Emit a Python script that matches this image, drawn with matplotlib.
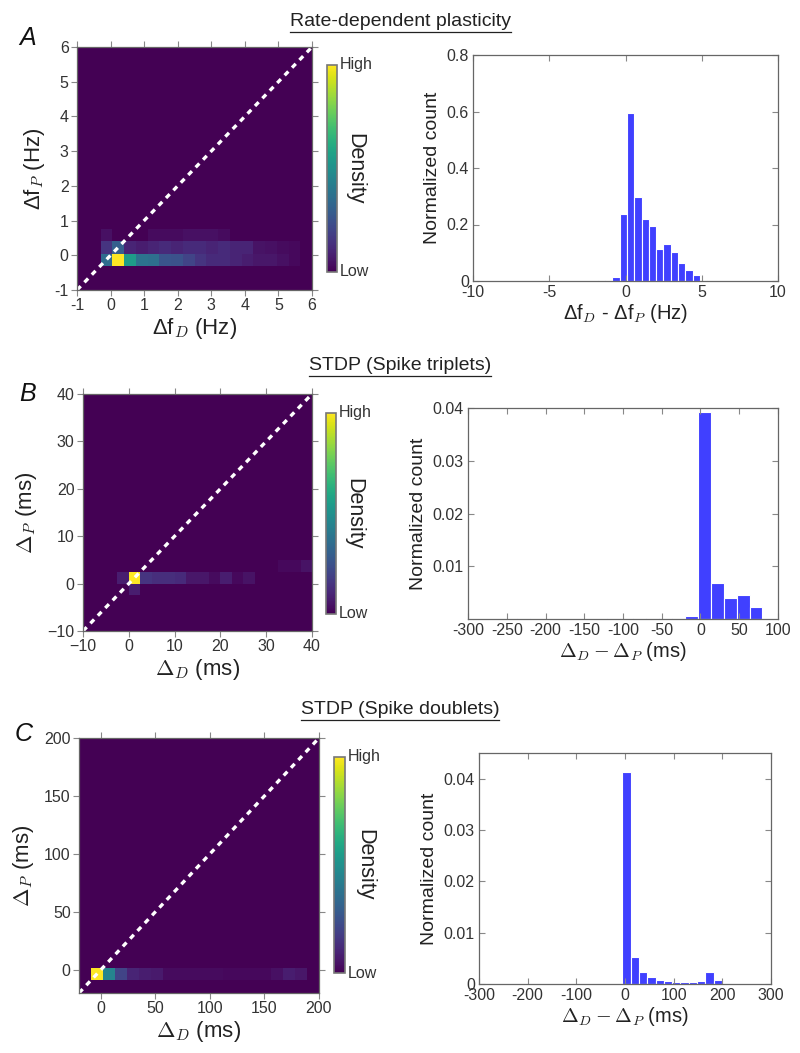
import numpy as np
import matplotlib
matplotlib.use("Agg")
import matplotlib.pyplot as plt
from matplotlib.lines import Line2D
from matplotlib.cm import ScalarMappable
from matplotlib.colors import Normalize

plt.rcParams['font.family'] = ['Liberation Sans', 'DejaVu Sans']
plt.rcParams['axes.unicode_minus'] = False

# ---------------- data ----------------
titles = ["Rate-dependent plasticity", "STDP (Spike triplets)", "STDP (Spike doublets)"]
panel_letters = ["A", "B", "C"]

# Panel A heatmap: 20x20 bins on [-1, 6]; only non-empty rows listed (row index: values)
A_range = (-1.0, 6.0)
A_nbins = 20
A_rows = {
    2: [0, 0, 0.35, 1.0, 0.55, 0.38, 0.36, 0.26, 0.25, 0.2, 0.15, 0.12, 0.12, 0.1, 0.08, 0.06, 0.06, 0.04, 0.02, 0],
    3: [0, 0, 0.15, 0.3, 0.1, 0.08, 0.1, 0.12, 0.1, 0.12, 0.12, 0.1, 0.12, 0.1, 0.1, 0.05, 0.04, 0.03, 0.02, 0],
    4: [0, 0, 0.04, 0, 0, 0, 0.03, 0.03, 0.03, 0.04, 0.04, 0.04, 0.03, 0, 0, 0, 0, 0, 0, 0],
}
# Panel B heatmap: 20x20 bins on [-10, 40]
B_range = (-10.0, 40.0)
B_nbins = 20
B_rows = {
    3: [0, 0, 0, 0, 0.08, 0, 0, 0, 0, 0, 0, 0, 0, 0, 0, 0, 0, 0, 0, 0],
    4: [0, 0, 0, 0.08, 1.0, 0.15, 0.13, 0.13, 0.12, 0.06, 0.06, 0.03, 0.08, 0.02, 0.05, 0, 0, 0, 0, 0],
    5: [0, 0, 0, 0, 0, 0, 0, 0, 0, 0, 0, 0, 0, 0, 0, 0, 0, 0.02, 0.02, 0.05],
}
# Panel C heatmap: 20x20 bins on [-20, 200]
C_range = (-20.0, 200.0)
C_nbins = 20
C_rows = {
    1: [0, 1.0, 0.45, 0.2, 0.1, 0.08, 0.07, 0.03, 0.03, 0.03, 0.03, 0.03, 0.02, 0.02, 0.02, 0.02, 0.04, 0.08, 0.06, 0],
}

# Histograms (bin edges and normalized counts)
histA_edges = [-1.83, -1.35, -0.87, -0.39, 0.09, 0.57, 1.05, 1.53, 2.01, 2.49, 2.97, 3.45, 3.93, 4.41, 4.89, 5.37]
histA_vals = [0.002, 0.003, 0.013, 0.237, 0.594, 0.296, 0.218, 0.196, 0.112, 0.13, 0.104, 0.065, 0.039, 0.022, 0.005]

histB_edges = [-237.3, -220.6, -203.9, -187.2, -170.5, -153.8, -137.1, -120.4, -103.7, -87.0,
               -70.3, -53.6, -36.9, -20.2, -3.5, 13.2, 29.9, 46.6, 63.3, 80.0]
histB_vals = [0.0002, 0, 0, 0, 0, 0, 0, 0.0001, 0.00015, 0.0002, 0.00015, 0.0002, 0.0002, 0.0005,
              0.0392, 0.0068, 0.0039, 0.0045, 0.0023]

histC_edges = [-5.6, 11.5, 28.5, 45.6, 62.7, 79.8, 96.8, 113.9, 131.0, 148.0, 165.1, 182.2, 199.3]
histC_vals = [0.0413, 0.0053, 0.0023, 0.0014, 0.0008, 0.00068, 0.00048, 0.00035, 0.0004, 0.00068, 0.0024, 0.0008]

# ---------------- figure ----------------
W, H = 800, 1053
fig = plt.figure(figsize=(W / 100, H / 100), dpi=100)

def rect(x0, y0, x1, y1):
    return [x0 / W, 1 - y1 / H, (x1 - x0) / W, (y1 - y0) / H]

TXT = '#222222'
TICK = '#333333'
SPINE = '#666666'
BAR = (0.25, 0.25, 1.0)

def build_matrix(rows, nbins):
    M = np.zeros((nbins, nbins))
    for r, vals in rows.items():
        M[r, :] = vals
    return M

def heat_panel(pos, cpos, rows, rng, nbins, xticks, yticks, xlabel, ylabel,
               ticklabels_minus=False, ylabelpad=4):
    ax = fig.add_axes(rect(*pos))
    edges = np.linspace(rng[0], rng[1], nbins + 1)
    M = build_matrix(rows, nbins)
    ax.pcolormesh(edges, edges, M, cmap='viridis', vmin=0, vmax=1, shading='flat')
    lo, hi = rng
    ax.plot([lo, hi], [lo, hi], color='white', lw=2.4, ls=(0, (1.6, 1.6)))
    ax.set_xlim(lo, hi)
    ax.set_ylim(lo, hi)
    ax.set_xticks(xticks)
    ax.set_yticks(yticks)
    if ticklabels_minus:
        ax.set_xticklabels([str(t).replace('-', '\u2212') for t in xticks])
        ax.set_yticklabels([str(t).replace('-', '\u2212') for t in yticks])
    ax.tick_params(direction='out', length=4, width=0.8, color='#888888', labelcolor=TICK,
                   labelsize=11.5, top=True, right=True, pad=2)
    for s in ax.spines.values():
        s.set_color(SPINE)
        s.set_linewidth(0.9)
    ax.set_xlabel(xlabel, fontsize=16, color=TXT, labelpad=2, math_fontfamily='cm')
    ax.set_ylabel(ylabel, fontsize=16, color=TXT, labelpad=ylabelpad, math_fontfamily='cm')
    cax = fig.add_axes(rect(*cpos))
    cb = fig.colorbar(ScalarMappable(norm=Normalize(0, 1), cmap='viridis'), cax=cax)
    cb.set_ticks([])
    cb.outline.set_edgecolor('#777777')
    cb.outline.set_linewidth(1.2)
    cax.text(1.25, 1.0, "High", transform=cax.transAxes, ha='left', va='center', fontsize=11.5, color=TICK)
    cax.text(1.25, 0.0, "Low", transform=cax.transAxes, ha='left', va='center', fontsize=11.5, color=TICK)
    cax.text(2.8, 0.5, "Density", transform=cax.transAxes, ha='center', va='center', rotation=270,
             fontsize=15.5, color=TXT)
    return ax

def hist_panel(pos, edges, vals, xlim, ylim, xticks, yticks, yticklabels, xlabel):
    ax = fig.add_axes(rect(*pos))
    edges = np.asarray(edges)
    ax.bar(edges[:-1], vals, width=np.diff(edges), align='edge', color=BAR,
           edgecolor='white', linewidth=0.8)
    ax.set_xlim(*xlim)
    ax.set_ylim(*ylim)
    ax.set_xticks(xticks)
    ax.set_yticks(yticks)
    ax.set_yticklabels(yticklabels)
    ax.set_xticklabels([str(t) for t in xticks])
    ax.tick_params(direction='in', length=4.5, width=0.8, color='#888888', labelcolor=TICK,
                   labelsize=11.5, top=True, right=True, pad=3)
    for s in ax.spines.values():
        s.set_color(SPINE)
        s.set_linewidth(0.9)
    ax.set_xlabel(xlabel, fontsize=14.5, color=TXT, labelpad=1, math_fontfamily='cm')
    ax.set_ylabel("Normalized count", fontsize=14, color=TXT, labelpad=4)
    return ax

# Panel A
heat_panel((77, 47, 312, 290), (327, 65, 337, 272), A_rows, A_range, A_nbins,
           [-1, 0, 1, 2, 3, 4, 5, 6], [-1, 0, 1, 2, 3, 4, 5, 6],
           "\u0394f$_D$ (Hz)", "\u0394f$_P$ (Hz)", ylabelpad=5)
hist_panel((473, 55, 778, 281), histA_edges, histA_vals, (-10, 10), (0, 0.8),
           [-10, -5, 0, 5, 10], [0, 0.2, 0.4, 0.6, 0.8], ["0", "0.2", "0.4", "0.6", "0.8"],
           "\u0394f$_D$ - \u0394f$_P$ (Hz)")

# Panel B
heat_panel((83, 394, 312, 631), (326, 413, 336, 614), B_rows, B_range, B_nbins,
           [-10, 0, 10, 20, 30, 40], [-10, 0, 10, 20, 30, 40],
           r"$\Delta_D$ (ms)", r"$\Delta_P$ (ms)", ticklabels_minus=True, ylabelpad=6)
hist_panel((468, 408, 778, 619), histB_edges, histB_vals, (-300, 100), (0, 0.04),
           [-300, -250, -200, -150, -100, -50, 0, 50, 100], [0.01, 0.02, 0.03, 0.04],
           ["0.01", "0.02", "0.03", "0.04"], r"$\Delta_D - \Delta_P$ (ms)")

# Panel C
heat_panel((79, 738, 319, 993), (334, 757, 345, 973), C_rows, C_range, C_nbins,
           [0, 50, 100, 150, 200], [0, 50, 100, 150, 200],
           r"$\Delta_D$ (ms)", r"$\Delta_P$ (ms)", ylabelpad=6)
hist_panel((479, 753, 771, 984), histC_edges, histC_vals, (-300, 300), (0, 0.045),
           [-300, -200, -100, 0, 100, 200, 300], [0, 0.01, 0.02, 0.03, 0.04],
           ["0", "0.01", "0.02", "0.03", "0.04"], r"$\Delta_D - \Delta_P$ (ms)")

# Titles (underlined) and panel letters
title_y = [22, 366, 710]
letter_pos = [(28, 38), (28, 394), (24, 734)]
title_artists = []
for t, ty in zip(titles, title_y):
    title_artists.append(fig.text(0.5, 1 - ty / H, t, ha='center', va='center', fontsize=14, color=TXT))
for L, (lx, ly) in zip(panel_letters, letter_pos):
    fig.text(lx / W, 1 - ly / H, L, ha='center', va='center', fontsize=18, style='italic', color='#111111')

fig.canvas.draw()
r = fig.canvas.get_renderer()
for ta in title_artists:
    bb = ta.get_window_extent(r)
    yline = bb.y0 - 1
    fig.add_artist(Line2D([bb.x0 / W, bb.x1 / W], [yline / H, yline / H], transform=fig.transFigure,
                          color=TXT, lw=0.9))

fig.savefig("out.png", dpi=100)
